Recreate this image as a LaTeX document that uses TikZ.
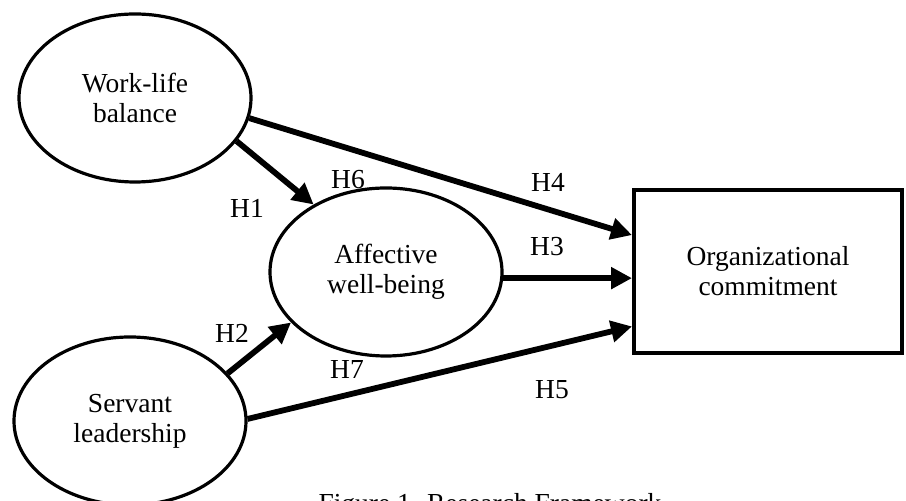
\documentclass[tikz,border=0pt]{standalone}
\usepackage{fontspec}
\setmainfont{Liberation Serif}
\usetikzlibrary{shapes.geometric,arrows.meta}
\tikzset{
	latent/.style={draw,ellipse,line width=1.6pt,minimum width=116pt,minimum height=84pt,align=center,inner sep=0pt},
	construct/.style={draw,rectangle,line width=2pt,minimum width=134pt,minimum height=81.5pt,align=center},
	hyp/.style={inner sep=0pt},
	link/.style={line width=2.9pt,-{Triangle[length=10.5pt,width=10.5pt]}}
}
\begin{document}
\begin{tikzpicture}[x=0.5pt,y=-0.5pt,font=\fontsize{13.75}{15}\selectfont]
				\useasboundingbox (0,0) rectangle (906,501);
				% constructs
				\node[latent] (wlb) at (135,98) {Work-life\\balance};
				\node[latent] (awb) at (386,272) {Affective\\well-being};
				\node[latent] (sl) at (130,421) {Servant\\leadership};
				\node[construct] (oc) at (768,271.5) {Organizational\\commitment};
				% hypotheses
				\draw[link] (wlb.-23) -- (awb.137);
				\draw[link] (wlb.-10) -- (oc.165.6);
				\draw[link] (awb.-3) -- (oc.west |- awb.-3);
				\draw[link] (sl.26) -- (awb.208);
				\draw[link] (sl.1) -- (oc.202.5);
				\node[hyp] (h1) at (247,208) {H1};
				\node[hyp] (h2) at (232,333) {H2};
				\node[hyp] (h3) at (547,247) {H3};
				\node[hyp] (h4) at (548,182) {H4};
				\node[hyp] (h5) at (552,390) {H5};
				\node[hyp] (h6) at (348,180) {H6};
				\node[hyp] (h7) at (347,370) {H7};
				\node[anchor=base] (cap) at (490,513) {Figure 1. Research Framework};
\end{tikzpicture}
\end{document}
